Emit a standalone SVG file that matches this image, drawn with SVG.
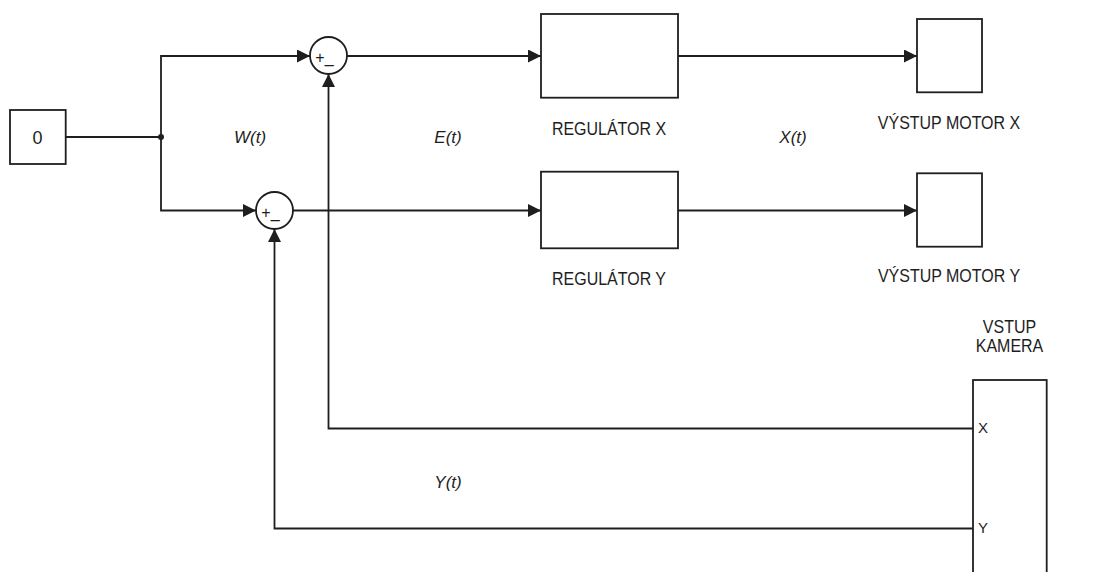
<svg xmlns="http://www.w3.org/2000/svg" width="1093" height="572" viewBox="0 0 1093 572">
<style>
.box{fill:#fff;stroke:#1e1e1e;stroke-width:1.8}
.ln{fill:none;stroke:#1e1e1e;stroke-width:1.8}
.lbl{font-family:"Liberation Sans",Arial,sans-serif;font-size:16px;fill:#1e1e1e;text-anchor:middle}
.sig{font-family:"Liberation Sans",Arial,sans-serif;font-size:17px;font-style:italic;fill:#1e1e1e;text-anchor:middle}
.pm{font-family:"Liberation Sans",Arial,sans-serif;font-size:16px;fill:#1e1e1e}
.zero{font-family:"Liberation Sans",Arial,sans-serif;font-size:18px;fill:#1e1e1e;text-anchor:middle}
.port{font-family:"Liberation Sans",Arial,sans-serif;font-size:15px;fill:#1e1e1e}
</style>
<defs>
<marker id="arr" markerUnits="userSpaceOnUse" markerWidth="14" markerHeight="14" refX="13" refY="6.5" orient="auto">
<path d="M0,0 L13,6.5 L0,13 z" fill="#1e1e1e"/>
</marker>
</defs>
<rect width="1093" height="572" fill="#fff"/>
<g id="connectors">
<path class="ln" d="M65.7,137 H161"/>
<path class="ln" d="M161,137 V56 H310" marker-end="url(#arr)"/>
<path class="ln" d="M161,137 V210.5 H256" marker-end="url(#arr)"/>
<path class="ln" d="M347,56 H541" marker-end="url(#arr)"/>
<path class="ln" d="M293,210.5 H541" marker-end="url(#arr)"/>
<path class="ln" d="M678,56 H917" marker-end="url(#arr)"/>
<path class="ln" d="M678,210.5 H917" marker-end="url(#arr)"/>
<path class="ln" d="M973,428.5 H328.5 V74" marker-end="url(#arr)"/>
<path class="ln" d="M973,528.5 H274.5 V229" marker-end="url(#arr)"/>
<circle cx="161" cy="137" r="3" fill="#1e1e1e"/>
</g>
<g id="const0">
<rect class="box" x="10" y="110" width="55.7" height="54"/>
<text class="zero" x="37.5" y="143.5">0</text>
</g>
<g id="sumX">
<circle class="box" cx="328.5" cy="55.5" r="18.5"/>
<text class="pm" x="315.3" y="62.5">+_</text>
</g>
<g id="sumY">
<circle class="box" cx="274.5" cy="210.5" r="18.5"/>
<text class="pm" x="261.3" y="217.5">+_</text>
</g>
<g id="regX">
<rect class="box" x="541" y="14" width="137" height="83.7"/>
<text class="lbl" transform="translate(609,135) scale(1,1.1)">REGULÁTOR X</text>
</g>
<g id="regY">
<rect class="box" x="541" y="171.7" width="137" height="76.6"/>
<text class="lbl" transform="translate(609,285) scale(1,1.1)">REGULÁTOR Y</text>
</g>
<g id="outX">
<rect class="box" x="917" y="19" width="65" height="73.3"/>
<text class="lbl" transform="translate(949,129) scale(1,1.1)">VÝSTUP MOTOR X</text>
</g>
<g id="outY">
<rect class="box" x="917" y="173.3" width="65" height="73.4"/>
<text class="lbl" transform="translate(949,282) scale(1,1.1)">VÝSTUP MOTOR Y</text>
</g>
<g id="camera">
<rect class="box" x="973" y="380" width="73.7" height="200"/>
<text class="lbl" transform="translate(1009.5,333) scale(1,1.1)">VSTUP</text>
<text class="lbl" transform="translate(1009.5,352) scale(1,1.1)">KAMERA</text>
<text class="port" x="978" y="433">X</text>
<text class="port" x="978" y="533">Y</text>
</g>
<g id="signals">
<text class="sig" x="250" y="143">W(t)</text>
<text class="sig" x="448" y="143">E(t)</text>
<text class="sig" x="793" y="143">X(t)</text>
<text class="sig" x="448" y="488">Y(t)</text>
</g>
</svg>
